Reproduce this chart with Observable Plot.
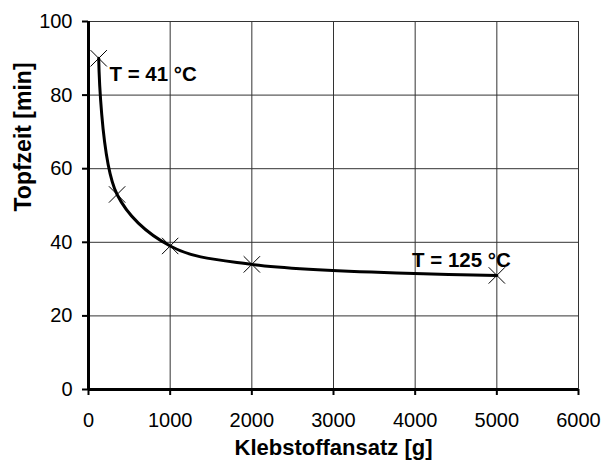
<!DOCTYPE html>
<html>
<head>
<meta charset="utf-8">
<script src="https://cdn.jsdelivr.net/npm/d3@7"></script>
<script src="https://cdn.jsdelivr.net/npm/@observablehq/plot@0.6"></script>
<style>
  html, body { margin: 0; padding: 0; background: #fff; }
  svg { display: block; }
</style>
</head>
<body>
<div id="chart"></div>
<script>
const ansatz = [125, 350, 1000, 2000, 5000];
const topfzeit = [90, 53, 39, 34, 31];
const xTicks = [0, 1000, 2000, 3000, 4000, 5000, 6000];
const yTicks = [0, 20, 40, 60, 80, 100];
const noteText = ["T = 41 °C", "T = 125 °C"];
const noteX = [257, 3962];
const noteY = [85.5, 35];

const data = ansatz.map((x, i) => ({x, y: topfzeit[i]}));
const notes = noteText.map((t, i) => ({t, x: noteX[i], y: noteY[i]}));

const chart = Plot.plot({
  width: 602,
  height: 463,
  marginLeft: 88,
  marginRight: 24,
  marginTop: 21,
  marginBottom: 74,
  style: {fontFamily: "'Liberation Sans', Arial, sans-serif", fontSize: "20px", color: "#000", background: "#fff"},
  x: {domain: [0, 6000]},
  y: {domain: [0, 100]},
  marks: [
    Plot.gridX(xTicks, {stroke: "#333", strokeOpacity: 1, strokeWidth: 1}),
    Plot.gridY(yTicks, {stroke: "#333", strokeOpacity: 1, strokeWidth: 1}),
    Plot.axisX(xTicks, {tickSize: 6, strokeWidth: 2, tickPadding: 17, tickFormat: d3.format("d"), fontSize: 20, label: null}),
    Plot.axisY(yTicks, {tickSize: 6, strokeWidth: 2, tickPadding: 10, tickFormat: d3.format("d"), fontSize: 20, label: null}),
    Plot.ruleX([0], {strokeWidth: 3}),
    Plot.ruleY([0], {strokeWidth: 3}),
    Plot.line(data, {x: "x", y: "y", curve: "catmull-rom", stroke: "#000", strokeWidth: 3}),
    Plot.dot(data, {x: "x", y: "y", symbol: "times", r: 7.5, stroke: "#000", strokeWidth: 1}),
    Plot.text(notes, {x: "x", y: "y", text: "t", textAnchor: "start", fontWeight: "bold", fontSize: 20.5, fill: "#000"}),
    Plot.text(["Klebstoffansatz [g]"], {frameAnchor: "bottom", lineAnchor: "middle", dy: 58, fontWeight: "bold", fontSize: 22, fill: "#000"}),
    Plot.text(["Topfzeit [min]"], {frameAnchor: "left", lineAnchor: "middle", dx: -65, dy: 6, rotate: -90, fontWeight: "bold", fontSize: 23, fill: "#000"})
  ]
});
document.getElementById("chart").append(chart);
</script>
</body>
</html>
